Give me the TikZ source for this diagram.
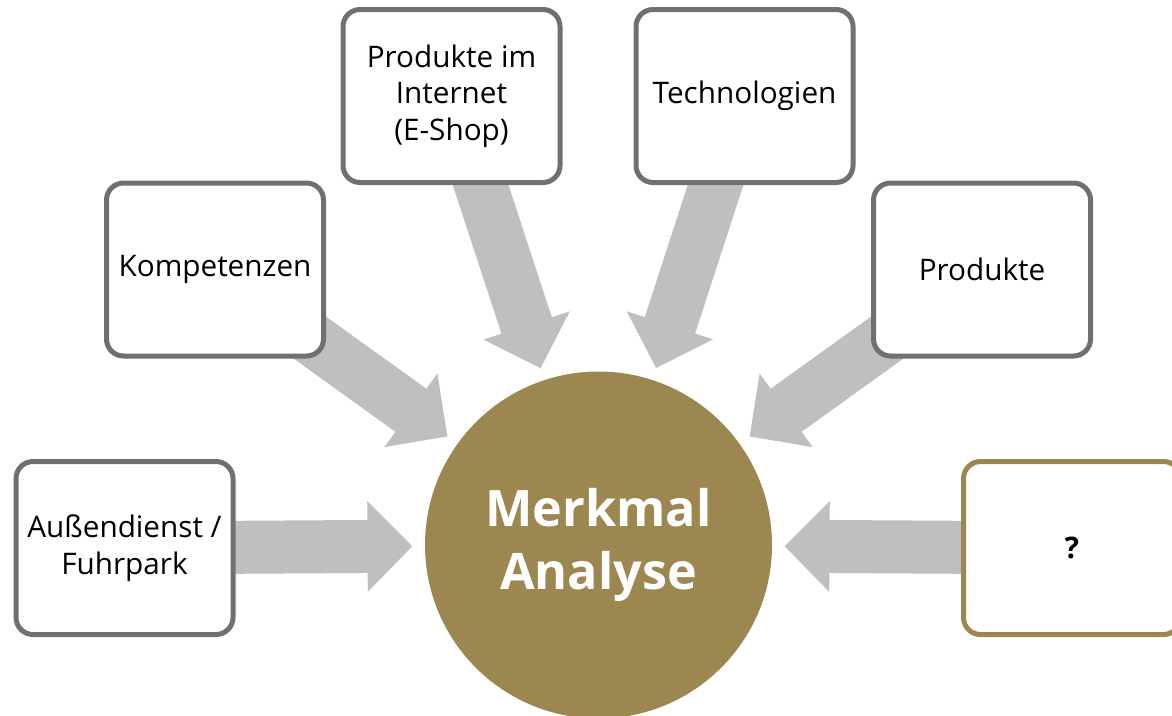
\documentclass[tikz,border=0pt]{standalone}
\usepackage{fontspec}
\setmainfont{Open Sans}
\usepackage{xcolor}
\usetikzlibrary{arrows.meta, backgrounds}
\definecolor{hubgold}{RGB}{157,135,80}
\definecolor{framegray}{RGB}{112,112,112}
\definecolor{arrowgray}{RGB}{191,191,191}
\tikzset{
  topic/.style={rectangle, rounded corners=1.7mm, draw=framegray, line width=0.5mm,
                fill=white, minimum width=21.7mm, minimum height=17.3mm,
                inner sep=0pt, outer sep=0pt, align=center,
                font=\fontsize{8.45pt}{10.4pt}\selectfont},
  askbox/.style={topic, draw=hubgold, font=\fontsize{8.45pt}{10.4pt}\selectfont\bfseries},
  hub/.style={circle, fill=hubgold, minimum size=34.7mm, inner sep=0pt, outer sep=0pt,
              align=center, text=white, font=\fontsize{14.3pt}{17.9pt}\selectfont\bfseries},
  feed/.style={-{Triangle[length=4.5mm, width=8.8mm]}, line width=5.3mm,
               draw=arrowgray, fill=arrowgray, shorten >=1.25mm},
}

\begin{document}
\begin{tikzpicture}[x=0.1mm, y=-0.1mm]
  \useasboundingbox (0,0) rectangle (1172,715);

  %% === Central circle ===
  \node[hub] (merkmal) at (598.5,545) {Merkmal\\Analyse};

  %% === Surrounding topics ===
  \node[topic]  (aussen) at (124.5,548) {Außendienst /\\Fuhrpark};
  \node[topic]  (komp)   at (215,269.5) {Kompetenzen};
  \node[topic]  (shop)   at (451.5,96)  {Produkte im\\Internet\\(E-Shop)};
  \node[topic]  (tech)   at (744.5,96)  {Technologien};
  \node[topic]  (prod)   at (982,269.5) {Produkte};
  \node[askbox] (frage)  at (1072,548)  {?};

  %% === Feeding arrows (behind the boxes) ===
  \begin{scope}[on background layer]
    \draw[feed] (aussen.center) -- (merkmal);
    \draw[feed] (komp.center)   -- (merkmal);
    \draw[feed] (shop.center)   -- (merkmal);
    \draw[feed] (tech.center)   -- (merkmal);
    \draw[feed] (prod.center)   -- (merkmal);
    \draw[feed] (frage.center)  -- (merkmal);
  \end{scope}
\end{tikzpicture}
\end{document}
